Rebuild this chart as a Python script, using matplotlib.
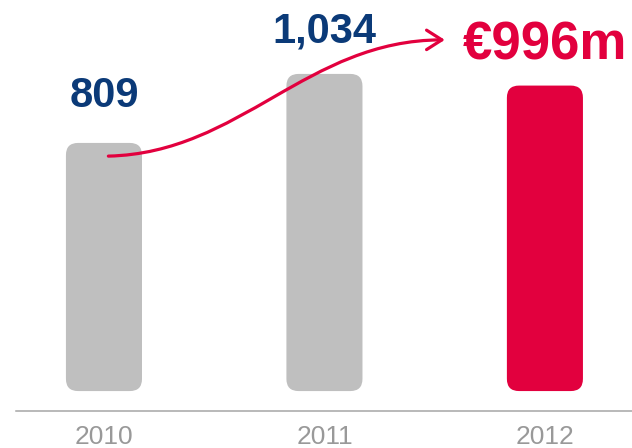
import matplotlib.pyplot as plt
from matplotlib.patches import FancyBboxPatch, FancyArrowPatch
from matplotlib.path import Path

years = ['2010', '2011', '2012']
values = [809, 1034, 996]
labels = ['809', '1,034', '€996m']
bar_colors = ['#bfbfbf', '#bfbfbf', '#e2003e']
label_colors = ['#0b3a78', '#0b3a78', '#e2003e']

fig = plt.figure(figsize=(6.32, 4.48), dpi=100)
ax = fig.add_axes([16 / 632, 37 / 448, 616 / 632, 411 / 448])
ax.set_xlim(-0.399, 2.395)
ax.set_ylim(-65, 1275)

bar_w = 0.345
for i, v in enumerate(values):
    box = FancyBboxPatch((i - bar_w / 2, 0), bar_w, v,
                         boxstyle='round,pad=0,rounding_size=0.055',
                         mutation_aspect=720, fc=bar_colors[i], ec='none')
    ax.add_patch(box)

# value labels
ax.text(0, 926, labels[0], ha='center', va='baseline', fontsize=30,
        fontweight='bold', color=label_colors[0], family='Liberation Sans')
ax.text(1, 1135, labels[1], ha='center', va='baseline', fontsize=30,
        fontweight='bold', color=label_colors[1], family='Liberation Sans')
ax.text(2, 1080, labels[2], ha='center', va='baseline', fontsize=38,
        fontweight='bold', color=label_colors[2], family='Liberation Sans')

# growth arrow
verts = [(0.02, 766), (0.62, 776), (0.92, 1145), (1.546, 1145)]
codes = [Path.MOVETO, Path.CURVE4, Path.CURVE4, Path.CURVE4]
arrow = FancyArrowPatch(path=Path(verts, codes),
                        arrowstyle='->,head_length=11,head_width=7',
                        color='#e2003e', lw=2.3, transform=ax.transData)
ax.add_patch(arrow)

ax.set_xticks(range(len(years)))
ax.set_xticklabels(years, fontsize=19, color='#999999', family='Liberation Sans')
ax.tick_params(axis='x', length=0, pad=10)
ax.set_yticks([])
for s in ['top', 'left', 'right']:
    ax.spines[s].set_visible(False)
ax.spines['bottom'].set_color('#a6a6a6')
ax.spines['bottom'].set_linewidth(1.1)

fig.savefig('out.png', dpi=100)
